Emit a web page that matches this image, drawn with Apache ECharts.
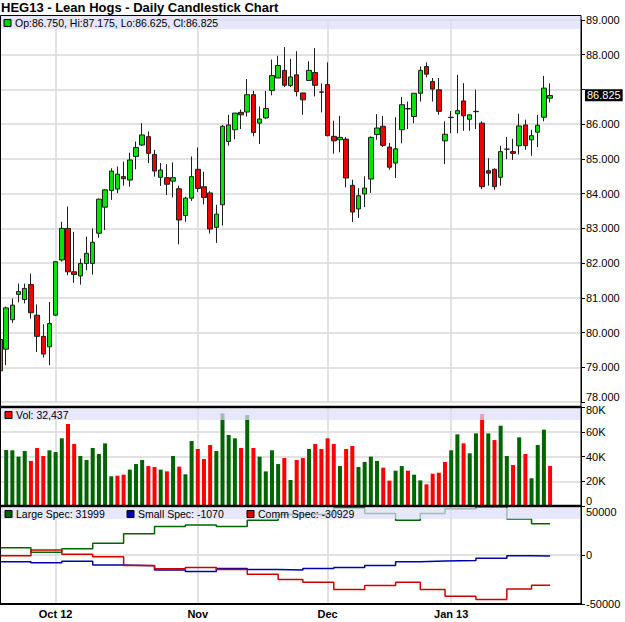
<!DOCTYPE html>
<html>
<head>
<meta charset="utf-8">
<title>HEG13 - Lean Hogs - Daily Candlestick Chart</title>
<script src="https://cdn.jsdelivr.net/npm/echarts/dist/echarts.min.js"></script>
<style>
  html, body { margin: 0; padding: 0; background: #fff; }
  #chart { width: 625px; height: 622px; }
</style>
</head>
<body>
<div id="chart"></div>
<script>
// trading days, plus a few empty sessions at the right edge
const dates = [
  "2012-09-18", "2012-09-19", "2012-09-20", "2012-09-21", "2012-09-24", "2012-09-25", "2012-09-26", "2012-09-27", "2012-09-28",
  "2012-10-01", "2012-10-02", "2012-10-03", "2012-10-04", "2012-10-05", "2012-10-08", "2012-10-09", "2012-10-10", "2012-10-11",
  "2012-10-12", "2012-10-15", "2012-10-16", "2012-10-17", "2012-10-18", "2012-10-19", "2012-10-22", "2012-10-23", "2012-10-24",
  "2012-10-25", "2012-10-26", "2012-10-29", "2012-10-30", "2012-10-31",
  "2012-11-01", "2012-11-02", "2012-11-05", "2012-11-06", "2012-11-07", "2012-11-08", "2012-11-09", "2012-11-12", "2012-11-13",
  "2012-11-14", "2012-11-15", "2012-11-16", "2012-11-19", "2012-11-20", "2012-11-21", "2012-11-23", "2012-11-26", "2012-11-27",
  "2012-11-28", "2012-11-29", "2012-11-30",
  "2012-12-03", "2012-12-04", "2012-12-05", "2012-12-06", "2012-12-07", "2012-12-10", "2012-12-11", "2012-12-12", "2012-12-13",
  "2012-12-14", "2012-12-17", "2012-12-18", "2012-12-19", "2012-12-20", "2012-12-21", "2012-12-24", "2012-12-26", "2012-12-27",
  "2012-12-28", "2012-12-31",
  "2013-01-02", "2013-01-03", "2013-01-04", "2013-01-07", "2013-01-08", "2013-01-09", "2013-01-10", "2013-01-11", "2013-01-14",
  "2013-01-15", "2013-01-16", "2013-01-17", "2013-01-18", "2013-01-22", "2013-01-23", "2013-01-24", "2013-01-25",
  "2013-01-28", "2013-01-29", "2013-01-30", "2013-01-31", "2013-02-01",
];

// x tick labels and the sessions they sit on
const monthLabels = ["Oct 12", "Nov", "Dec", "Jan 13"];
const monthDates = ["2012-10-01", "2012-11-01", "2012-12-03", "2013-01-02"];

// open, close, low, high
const prices = [
  [78.90, 79.80, 78.85, 79.85], [79.52, 80.71, 79.06, 80.75], [80.37, 80.79, 80.28, 80.98], [81.10, 81.18, 80.87, 81.41],
  [80.95, 81.27, 80.84, 81.41], [81.38, 80.57, 80.40, 81.70], [80.50, 79.89, 79.44, 80.81], [79.89, 79.38, 79.28, 80.24],
  [79.59, 80.26, 79.06, 80.88], [80.50, 82.04, 80.48, 82.06], [82.09, 83.00, 82.04, 83.19], [83.00, 81.75, 81.65, 83.63],
  [81.75, 81.67, 81.43, 82.90], [81.63, 81.99, 81.38, 82.13], [81.99, 82.28, 81.80, 82.76], [81.99, 82.60, 81.67, 83.00],
  [82.86, 83.84, 82.73, 83.86], [83.61, 84.11, 82.95, 84.13], [84.09, 84.65, 83.82, 84.73], [84.13, 84.56, 84.01, 84.78],
  [84.49, 84.43, 84.23, 84.92], [84.39, 84.97, 84.20, 85.18], [85.07, 85.33, 84.70, 85.50], [85.40, 85.69, 85.38, 86.03],
  [85.64, 85.16, 84.88, 85.79], [85.13, 84.65, 84.49, 85.26], [84.47, 84.68, 84.22, 84.88], [84.46, 84.27, 83.96, 84.85],
  [84.36, 84.46, 83.89, 84.90], [84.14, 83.24, 82.54, 84.23], [83.37, 83.87, 83.19, 83.91], [83.87, 84.49, 83.79, 85.07],
  [84.70, 84.15, 84.05, 85.33], [84.20, 83.89, 83.69, 84.63], [84.02, 82.98, 82.85, 84.07], [83.03, 83.41, 82.58, 83.68],
  [83.68, 85.94, 83.08, 85.98], [85.50, 85.98, 85.38, 86.27], [85.84, 86.32, 85.57, 86.32], [86.34, 86.27, 85.86, 86.42],
  [86.35, 86.85, 86.22, 87.30], [86.85, 85.76, 85.65, 86.96], [86.03, 86.15, 85.43, 86.51], [86.18, 86.45, 86.15, 86.96],
  [86.97, 87.40, 86.83, 87.86], [87.33, 87.69, 87.33, 87.97], [87.55, 87.12, 87.07, 88.22], [87.11, 87.36, 87.07, 87.88],
  [87.42, 86.94, 86.80, 88.10], [86.90, 86.70, 86.27, 86.90], [87.26, 87.55, 87.26, 87.81], [87.49, 87.12, 86.80, 88.19],
  [86.93, 86.92, 86.34, 87.17], [87.14, 85.67, 85.65, 87.78], [85.65, 85.52, 85.15, 86.10], [85.55, 85.62, 85.19, 86.24],
  [85.57, 84.45, 84.18, 85.63], [84.24, 83.47, 83.18, 84.40], [83.56, 83.94, 83.30, 84.16], [83.99, 84.16, 83.61, 84.50],
  [84.42, 85.62, 84.02, 85.65], [85.70, 85.89, 85.55, 86.29], [85.94, 85.39, 85.34, 86.24], [85.34, 84.76, 84.69, 85.46],
  [84.88, 85.29, 84.45, 86.20], [85.84, 86.56, 85.45, 86.78], [86.45, 86.44, 85.86, 86.65], [86.22, 86.89, 86.03, 86.89],
  [86.89, 87.55, 86.65, 87.66], [87.66, 87.44, 87.35, 87.78], [87.23, 87.01, 86.65, 87.33], [86.99, 86.37, 86.27, 87.33],
  [85.52, 85.71, 84.85, 86.08], [86.19, 86.20, 85.74, 86.38], [86.30, 86.39, 85.74, 87.42], [86.67, 86.24, 85.81, 87.18],
  [86.14, 86.27, 85.81, 86.27], [86.36, 86.37, 85.86, 86.99], [86.03, 84.20, 84.13, 86.08], [84.66, 84.59, 84.23, 85.02],
  [84.70, 84.20, 84.11, 84.73], [84.47, 85.21, 84.23, 85.38], [85.28, 85.28, 84.99, 85.63], [85.21, 85.16, 84.97, 85.58],
  [85.38, 85.95, 85.13, 86.30], [85.98, 85.38, 85.26, 86.13], [85.55, 85.67, 85.09, 85.84], [85.77, 85.97, 85.34, 86.27],
  [86.20, 87.04, 86.08, 87.39], [86.75, 86.825, 86.625, 87.175],
];

const volume = [
  null, 45300, 45000, 39900, 44400, 36400, 46900, 40400, 45000, 43600,
  54700, 66300, 50100, 40400, 37200, 46900, 42000, 50600, 24000, 24500,
  25300, 29400, 33900, 37200, 32300, 31500, 29400, 28000, 40400, 31800,
  25600, 52500, 46100, 38000, 49300, 44400, 74900, 57400, 54700, 46900,
  73500, 46900, 39900, 28000, 45000, 33900, 38800, 21000, 37200, 38800,
  46100, 50100, 46100, 54700, 50100, 32300, 46100, 48500, 31500, 35600,
  39900, 36400, 31000, 20500, 28500, 32300, 28500, 25300, 20700, 17500,
  26100, 26900, 35600, 45000, 57900, 50600, 42600, 58700, 74300, 58700,
  53300, 64900, 40400, 33100, 55500, 42000, 22400, 49300, 61700, 32437,
];

// weekly commitments of traders (net positions)
const cotDates = [
  "2012-09-18", "2012-09-25", "2012-10-02", "2012-10-09", "2012-10-16", "2012-10-23", "2012-10-30", "2012-11-06",
  "2012-11-13", "2012-11-20", "2012-11-27", "2012-12-04", "2012-12-11", "2012-12-18", "2012-12-24", "2012-12-31",
  "2013-01-08", "2013-01-15", "2013-01-22",
];
const largeSpec = [7500, 2800, 6500, 12000, 21600, 29200, 30600, 29200, 35400, 41200, 41500, 48000, 42300, 35400, 42300, 47100, 49200, 36800, 31999];
const smallSpec = [-6900, -7900, -6500, -10300, -11000, -15200, -16800, -13700, -14800, -15200, -13700, -12700, -10600, -6900, -6200, -5500, -3400, -800, -1070];
const commSpec = [-700, 5200, 700, -1700, -10600, -14100, -12700, -14800, -19600, -25100, -27800, -35300, -31200, -27800, -35300, -42200, -45300, -34700, -30929];

const FONT = "Liberation Sans, Arial, sans-serif";
const GRID_LINE = "#d9d9d9";
const last = prices[prices.length - 1];
const lastDate = dates[prices.length - 1];

const isMonthStart = (index, value) => monthDates.includes(value);

function stepData(values) {
  const pts = cotDates.map((d, i) => [d, values[i]]);
  pts.push([lastDate, values[values.length - 1]]);
  return pts;
}

const volumeData = volume.map((v, i) => {
  if (v == null) return "-";
  const up = i === 0 || prices[i][1] >= prices[i - 1][1];
  return { value: v, itemStyle: { color: up ? "#006400" : "#ff0000" } };
});

function hiddenX(gridIndex) {
  return {
    type: "category",
    gridIndex,
    data: dates,
    boundaryGap: false,
    axisLine: { show: false },
    axisTick: { show: false },
    axisLabel: { show: false },
    splitLine: { show: true, interval: isMonthStart, lineStyle: { color: GRID_LINE, width: 1.5 } },
  };
}

function rightY(gridIndex, extra) {
  return Object.assign({
    type: "value",
    gridIndex,
    position: "right",
    axisLine: { show: true, lineStyle: { color: "#000", width: 1 } },
    axisTick: { show: true, length: 4, lineStyle: { color: "#000" } },
    splitLine: { show: true, lineStyle: { color: GRID_LINE, width: 1.5 } },
  }, extra);
}

const fmt = (n) => n.toFixed(3);
const priceLegend = `Op:${fmt(last[0])}, Hi:${fmt(last[3])}, Lo:${fmt(last[2])}, Cl:${fmt(last[1])}`;
const volLegend = `Vol: ${volume[volume.length - 1].toLocaleString("en-US")}`;
const lastOf = (arr) => arr[arr.length - 1];

function legendItem(x, y, color, text) {
  return [
    { type: "rect", z: 101, shape: { x, y: y - 3.5, width: 7, height: 7 }, style: { fill: color, stroke: "#000", lineWidth: 1 } },
    { type: "text", z: 101, x: x + 11, y, style: { text, fill: "#000", font: `10.5px ${FONT}`, textVerticalAlign: "middle" } },
  ];
}

function band(y, h) {
  return { type: "rect", z: 100, shape: { x: 1, y, width: 579, height: h }, style: { fill: "rgba(222,222,250,0.72)" } };
}

// labels that sit on a panel edge are nudged off it so they don't collide
const labelStyle = {
  fontSize: 11,
  color: "#000",
  margin: 5,
  rich: {
    up: { fontSize: 11, padding: [0, 0, 11, 0] },
    down: { fontSize: 11, padding: [5, 0, 0, 0] },
    down2: { fontSize: 11, padding: [12, 0, 0, 0] },
  },
};

const chart = echarts.init(document.getElementById("chart"), null, { renderer: "svg" });

chart.setOption({
  animation: false,
  backgroundColor: "#fff",
  textStyle: { fontFamily: FONT },
  title: {
    text: "HEG13 - Lean Hogs - Daily Candlestick Chart",
    left: 0,
    top: 0,
    padding: [1, 0, 0, 1],
    textStyle: { fontSize: 13, fontWeight: "bold", color: "#000", fontFamily: FONT },
  },
  grid: [
    { left: 0, right: 44, top: 20, height: 382, outerBoundsMode: "none" },
    { left: 0, right: 44, top: 407, height: 99, outerBoundsMode: "none" },
    { left: 0, right: 44, top: 506, height: 98, outerBoundsMode: "none" },
  ],
  xAxis: [
    hiddenX(0),
    hiddenX(1),
    {
      type: "category",
      gridIndex: 2,
      data: dates,
      boundaryGap: false,
      axisLine: { show: true, onZero: false, lineStyle: { color: "#000", width: 2 } },
      axisTick: { show: false },
      axisLabel: {
        interval: isMonthStart,
        formatter: (v) => monthLabels[monthDates.indexOf(v)] || "",
        fontWeight: "bold",
        fontSize: 11,
        color: "#000",
        margin: 4,
      },
      splitLine: { show: true, interval: isMonthStart, lineStyle: { color: GRID_LINE, width: 1.5 } },
    },
  ],
  yAxis: [
    rightY(0, {
      min: 78, max: 89, interval: 1,
      axisLabel: Object.assign({}, labelStyle, {
        formatter: (v) => {
          if (Math.abs(v - last[1]) < 0.3) return "";
          return v === 78 ? `{up|${v.toFixed(3)}}` : v.toFixed(3);
        },
      }),
    }),
    rightY(1, {
      min: 0, max: 80000, interval: 20000,
      axisLabel: Object.assign({}, labelStyle, {
        formatter: (v) => (v === 0 ? "{up|0}" : v === 80000 ? `{down|${v / 1000}K}` : v / 1000 + "K"),
      }),
    }),
    rightY(2, {
      min: -50000, max: 50000, interval: 50000,
      axisLabel: Object.assign({}, labelStyle, {
        formatter: (v) => (v === 50000 ? `{down2|${v}}` : String(v)),
      }),
    }),
  ],
  series: [
    {
      type: "candlestick",
      xAxisIndex: 0,
      yAxisIndex: 0,
      data: prices,
      barWidth: 5,
      clip: false,
      itemStyle: {
        color: "#00e400",
        color0: "#f00000",
        borderColor: "#1e1e1e",
        borderColor0: "#1e1e1e",
        borderColorDoji: "#1e1e1e",
        borderWidth: 1,
      },
      markLine: {
        silent: true,
        symbol: "none",
        z: 10,
        lineStyle: { color: "rgba(0,0,0,0)", width: 1, type: "solid" },
        label: {
          show: true,
          position: "end",
          distance: 4,
          formatter: fmt(last[1]),
          color: "#fff",
          backgroundColor: "#000",
          padding: [1, 2, 0, 2],
          fontSize: 11,
          fontFamily: FONT,
        },
        emphasis: { disabled: true },
        data: [{ yAxis: last[1] }],
      },
    },
    {
      type: "bar",
      xAxisIndex: 1,
      yAxisIndex: 1,
      barWidth: 4,
      data: volumeData,
    },
    {
      type: "line", xAxisIndex: 2, yAxisIndex: 2, step: "end", symbol: "none",
      data: stepData(largeSpec), lineStyle: { color: "#006400", width: 1.5 },
    },
    {
      type: "line", xAxisIndex: 2, yAxisIndex: 2, step: "end", symbol: "none",
      data: stepData(smallSpec), lineStyle: { color: "#0000a8", width: 1.5 },
    },
    {
      type: "line", xAxisIndex: 2, yAxisIndex: 2, step: "end", symbol: "none",
      data: stepData(commSpec), lineStyle: { color: "#d00000", width: 1.5 },
    },
  ],
  graphic: [
    band(16, 13),
    band(409, 11),
    band(508, 11),
    ...legendItem(4, 23, "#00d000", priceLegend),
    ...legendItem(5, 415, "#ff0000", volLegend),
    ...legendItem(5, 514, "#006400", `Large Spec: ${lastOf(largeSpec)}`),
    ...legendItem(127, 514, "#0000a8", `Small Spec: ${lastOf(smallSpec)}`),
    ...legendItem(247, 514, "#e00000", `Comm Spec: ${lastOf(commSpec)}`),
    { type: "rect", z: 102, shape: { x: 0.5, y: 15.5, width: 580.5, height: 588.5 }, style: { fill: "none", stroke: "#000", lineWidth: 1 } },
    { type: "line", z: 102, shape: { x1: 0, y1: 407, x2: 581, y2: 407 }, style: { stroke: "#000", lineWidth: 2.5 } },
    { type: "line", z: 102, shape: { x1: 0, y1: 506, x2: 581, y2: 506 }, style: { stroke: "#000", lineWidth: 2.5 } },
  ],
});
</script>
</body>
</html>
